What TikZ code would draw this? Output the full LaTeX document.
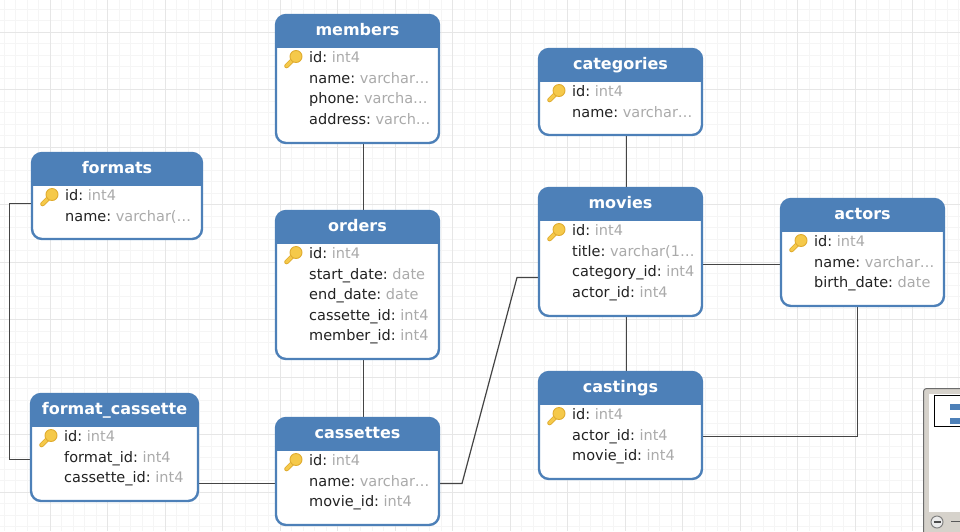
\documentclass[tikz,border=0pt]{standalone}
\usepackage{fontspec}
\setmainfont{DejaVu Sans}
\usetikzlibrary{calc}
\definecolor{hdrblue}{HTML}{4D80B8}
\definecolor{gridminor}{HTML}{F5F5F5}
\definecolor{gridmajor}{HTML}{E6E6E6}
\definecolor{typegrey}{HTML}{AAAAAA}
\definecolor{namedark}{HTML}{222222}
\definecolor{keygold}{HTML}{F5C94A}
\definecolor{keyedge}{HTML}{E0AC30}
\definecolor{connline}{HTML}{444444}
\definecolor{mapgrey}{HTML}{D6D2CB}
\pgfdeclarelayer{gridlayer}
\pgfdeclarelayer{connlayer}
\pgfsetlayers{gridlayer,connlayer,main}
\tikzset{
  x=1pt,y=-1pt,
  dbbox/.style={draw=hdrblue,line width=2.4pt,rounded corners=10pt,fill=white,anchor=north west,outer sep=0pt,inner sep=0pt,
    path picture={\fill[hdrblue,sharp corners] (path picture bounding box.north west) rectangle ([yshift=-33pt]path picture bounding box.north east);}},
  dbtitle/.style={anchor=base,text=white,font=\fontsize{16}{16}\selectfont\bfseries,inner sep=0pt},
  dbfield/.style={anchor=base west,inner sep=0pt,text=namedark,font=\fontsize{14.5}{16}\selectfont},
  conn/.style={draw=connline,line width=1.2pt},
  dbkey/.pic={
    \draw[keyedge,line width=4.6pt,line cap=round] (0,0) -- (-9.5,9.5);
    \draw[keygold,line width=3pt,line cap=round] (0,0) -- (-9.5,9.5);
    \fill[keygold,draw=keyedge,line width=.9pt] (0,0) circle[radius=6];
  }
}
% name, x, y, width, height, title
\newcommand{\dbtable}[6]{%
  \node[dbbox,minimum width=#4,minimum height=#5] (#1) at (#2,#3) {};
  \node[dbtitle] (#1-title) at ($(#1.north)+(0,20.6)$) {#6};
  \pic at ($(#1.north west)+(20,41.5)$) {dbkey};
}
% table, row, field, type
\newcommand{\dbrow}[4]{%
  \node[dbfield] (#1-r#2) at ($(#1.north west)+(33,47.4+20.6*#2)$) {#3:\textcolor{typegrey}{~#4}};
}
\begin{document}
\begin{tikzpicture}
\useasboundingbox (0,0) rectangle (960,531);
\begin{pgfonlayer}{gridlayer}
\fill[white] (0,0) rectangle (960,531);
\foreach \k in {0,...,83} {\draw[gridminor,line width=1pt] (4+11.5*\k,0) -- (4+11.5*\k,531);}
\foreach \k in {0,...,46} {\draw[gridminor,line width=1pt] (0,9+11.5*\k) -- (960,9+11.5*\k);}
\foreach \k in {1,...,17} {\draw[gridmajor,line width=1pt] (-7.5+57.5*\k,0) -- (-7.5+57.5*\k,531);}
\foreach \k in {0,...,8} {\draw[gridmajor,line width=1pt] (0,32+57.5*\k) -- (960,32+57.5*\k);}
\end{pgfonlayer}

\dbtable{members}{276}{15}{163}{128}{members}
\dbrow{members}{0}{id}{int4}
\dbrow{members}{1}{name}{varchar…}
\dbrow{members}{2}{phone}{varcha…}
\dbrow{members}{3}{address}{varch…}

\dbtable{formats}{32}{153}{170}{86}{formats}
\dbrow{formats}{0}{id}{int4}
\dbrow{formats}{1}{name}{varchar(…}

\dbtable{orders}{276}{211}{163}{148}{orders}
\dbrow{orders}{0}{id}{int4}
\dbrow{orders}{1}{start\_date}{date}
\dbrow{orders}{2}{end\_date}{date}
\dbrow{orders}{3}{cassette\_id}{int4}
\dbrow{orders}{4}{member\_id}{int4}

\dbtable{fc}{31}{394}{167}{107}{format\_cassette}
\dbrow{fc}{0}{id}{int4}
\dbrow{fc}{1}{format\_id}{int4}
\dbrow{fc}{2}{cassette\_id}{int4}

\dbtable{cassettes}{276}{418}{163}{107}{cassettes}
\dbrow{cassettes}{0}{id}{int4}
\dbrow{cassettes}{1}{name}{varchar…}
\dbrow{cassettes}{2}{movie\_id}{int4}

\dbtable{categories}{539}{49}{163}{86}{categories}
\dbrow{categories}{0}{id}{int4}
\dbrow{categories}{1}{name}{varchar…}

\dbtable{movies}{539}{188}{163}{128}{movies}
\dbrow{movies}{0}{id}{int4}
\dbrow{movies}{1}{title}{varchar(1…}
\dbrow{movies}{2}{category\_id}{int4}
\dbrow{movies}{3}{actor\_id}{int4}

\dbtable{castings}{539}{372}{163}{107}{castings}
\dbrow{castings}{0}{id}{int4}
\dbrow{castings}{1}{actor\_id}{int4}
\dbrow{castings}{2}{movie\_id}{int4}

\dbtable{actors}{781}{199}{163}{107}{actors}
\dbrow{actors}{0}{id}{int4}
\dbrow{actors}{1}{name}{varchar…}
\dbrow{actors}{2}{birth\_date}{date}

\begin{pgfonlayer}{connlayer}
\draw[conn] ([xshift=6]members.south) -- ([xshift=6]orders.north);
\draw[conn] ([xshift=6]orders.south) -- ([xshift=6]cassettes.north);
\draw[conn] (formats.west |- 0,203.5) -- (9.5,203.5) -- (9.5,459.5) -- (fc.west |- 0,459.5);
\draw[conn] (fc.east |- 0,483.5) -- (cassettes.west |- 0,483.5);
\draw[conn] (cassettes.east |- 0,483.5) -- (462,483.5) -- (517,277.5) -- (movies.west |- 0,277.5);
\draw[conn] ([xshift=6]categories.south) -- ([xshift=6]movies.north);
\draw[conn] ([xshift=6]movies.south) -- ([xshift=6]castings.north);
\draw[conn] (movies.east |- 0,264.5) -- (actors.west |- 0,264.5);
\draw[conn] (actors.south -| 857.5,0) -- (857.5,436.5) -- (castings.east |- 0,436.5);
\end{pgfonlayer}

% minimap panel, cut off by the picture's edge
\begin{scope}
\clip (0,0) rectangle (960,531);
\fill[mapgrey,draw=gray!85!black,line width=1pt,rounded corners=3pt] (923.5,388.5) rectangle (975,545);
\fill[white] (929,394) rectangle (960,512);
\draw[black,line width=1pt] (934.5,395.5) rectangle (975,426);
\fill[hdrblue] (950,404) rectangle (960,409.5);
\fill[hdrblue] (950,418) rectangle (960,424);
\fill[white!92!black,draw=gray,line width=1pt] (937,522) circle[radius=6];
\draw[gray!60!black,line width=1.6pt] (933.5,522) -- (940.5,522);
\draw[gray!70!black,line width=1.2pt] (951,521.5) -- (960,521.5);
\end{scope}
\end{tikzpicture}
\end{document}
